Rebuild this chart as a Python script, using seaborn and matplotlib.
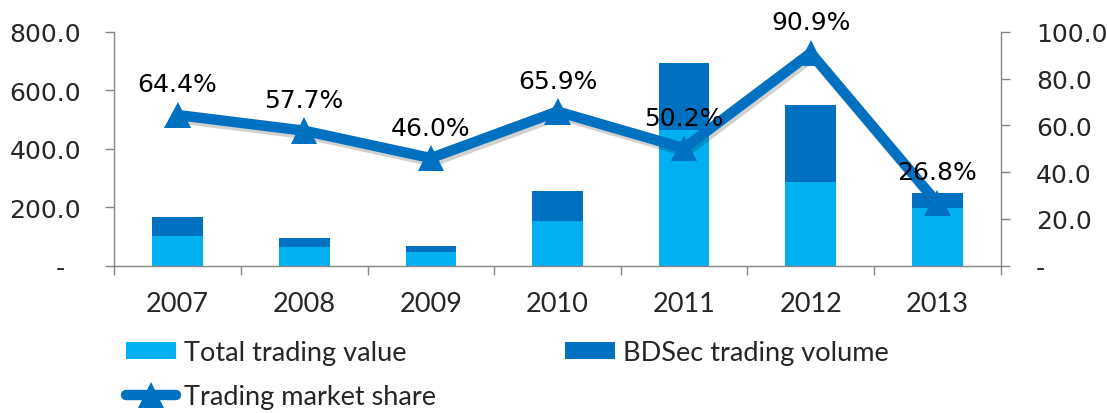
import numpy as np
import pandas as pd
import matplotlib
matplotlib.use("Agg")
import matplotlib.pyplot as plt
import matplotlib.patheffects as pe
from matplotlib.ticker import FuncFormatter, FixedLocator, MultipleLocator
from matplotlib.lines import Line2D
from matplotlib.patches import Patch
import seaborn as sns

# ---- data ----
years = ["2007", "2008", "2009", "2010", "2011", "2012", "2013"]
total_trading_value = [100, 63, 46, 154, 463, 287, 197]
bdsec_trading_volume = [65, 33, 20, 102, 231, 263, 51]
market_share = [64.4, 57.7, 46.0, 65.9, 50.2, 90.9, 26.8]

LIGHT = "#00B0F0"
DARK = "#0070C0"
SPINE = "#868686"

sns.set_style("white")
plt.rcParams["font.family"] = ["DejaVu Sans"]

W, H = 1107, 414
fig = plt.figure(figsize=(W / 100, H / 100), dpi=100)
left, right, bottom, top = 114.3 / W, 1000.7 / W, 1 - 266.7 / H, 1 - 32.7 / H
ax = fig.add_axes([left, bottom, right - left, top - bottom])

df = pd.DataFrame({
    "year": years,
    "total": total_trading_value,
    "bdsec": bdsec_trading_volume,
})
df["stack"] = df["total"] + df["bdsec"]

sns.barplot(data=df, x="year", y="stack", color=DARK, saturation=1,
            width=0.4, errorbar=None, ax=ax, linewidth=0)
sns.barplot(data=df, x="year", y="total", color=LIGHT, saturation=1,
            width=0.4, errorbar=None, ax=ax, linewidth=0)

ax.set_xlim(-0.5, len(years) - 0.5)
ax.set_ylim(0, 800)
ax.yaxis.set_major_locator(MultipleLocator(200))
ax.yaxis.set_major_formatter(FuncFormatter(lambda v, p: "-  " if abs(v) < 1e-9 else f"{v:.1f}"))
ax.set_xlabel("")
ax.set_ylabel("")
ax.set_xticks(range(len(years)), years, fontfamily="Lato", fontsize=19.5)
ax.xaxis.set_minor_locator(FixedLocator(np.arange(-0.5, len(years), 1.0)))
ax.tick_params(axis="x", which="major", length=0, pad=18.5)
ax.tick_params(axis="x", which="minor", bottom=True, length=6.5, width=1,
               color=SPINE, direction="out")
ax.tick_params(axis="y", left=True, length=6.5, width=1, color=SPINE,
               direction="out", pad=17.5, labelsize=18)
for s in ["top", "right"]:
    ax.spines[s].set_visible(False)
for s in ["left", "bottom"]:
    ax.spines[s].set_color(SPINE)
    ax.spines[s].set_linewidth(1)

ax2 = ax.twinx()
sns.pointplot(x=years, y=market_share, ax=ax2, color=DARK, markers="^",
              linestyles="-", markersize=19, linewidth=7.5, errorbar=None)
for ln in ax2.lines:
    ln.set_markeredgewidth(0)
    ln.set_path_effects([pe.SimpleLineShadow(offset=(1.5, -2.5), shadow_color="k", alpha=0.18),
                         pe.Normal()])
ax2.set_xlim(-0.5, len(years) - 0.5)
ax2.set_ylim(0, 100)
ax2.yaxis.set_major_locator(MultipleLocator(20))
ax2.yaxis.set_major_formatter(FuncFormatter(lambda v, p: "-" if abs(v) < 1e-9 else f"{v:.1f}"))
ax2.set_ylabel("")
ax2.tick_params(axis="y", right=True, length=6.5, width=1, color=SPINE,
                direction="out", pad=19, labelsize=18)
for s in ["top", "left", "bottom"]:
    ax2.spines[s].set_visible(False)
ax2.spines["right"].set_color(SPINE)
ax2.spines["right"].set_linewidth(1)

for i, v in enumerate(market_share):
    ax2.annotate(f"{v:.1f}%", (i, v), xytext=(0, 22), textcoords="offset points",
                 ha="center", va="center", fontsize=18, color="black")

# ---- legend ----
h_total = Patch(facecolor=LIGHT, edgecolor="none")
h_share = Line2D([], [], color=DARK, lw=7.5, marker="^", markersize=19, markeredgewidth=0)
h_bdsec = Patch(facecolor=DARK, edgecolor="none")
leg_kw = dict(loc="upper left", frameon=False, borderpad=0, borderaxespad=0,
              handlelength=1.85, handleheight=0.6, handletextpad=0.3,
              labelspacing=0.72, prop={"family": "Lato", "size": 19.5})
leg1 = fig.legend([h_total, h_share], ["Total trading value", "Trading market share"],
                  bbox_to_anchor=(126 / W, 1 - 341 / H), **leg_kw)
leg2 = fig.legend([h_bdsec], ["BDSec trading volume"],
                  bbox_to_anchor=(565 / W, 1 - 341 / H), **leg_kw)

fig.savefig("out.png", dpi=100)
